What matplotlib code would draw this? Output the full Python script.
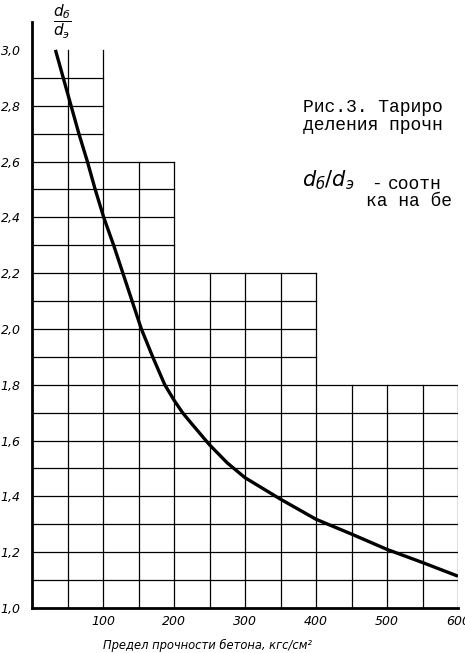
import matplotlib
matplotlib.use("Agg")
import matplotlib.pyplot as plt
import numpy as np

# curve: strength (kgf/cm2) -> d_b/d_e
strength = [33, 44, 55, 66, 78, 89, 101, 115, 128, 141, 154, 170, 187, 200,
            212, 225, 250, 275, 300, 350, 400, 450, 500, 550, 600]
ratio = [3.0, 2.9, 2.8, 2.7, 2.6, 2.5, 2.4, 2.3, 2.2, 2.1, 2.0, 1.9, 1.8, 1.745,
         1.70, 1.66, 1.585, 1.52, 1.467, 1.39, 1.318, 1.265, 1.21, 1.163, 1.114]

# stepped grid: right edge of each block and its top
block_right = [100, 200, 400, 600]
block_top = [3.0, 2.6, 2.2, 1.8]

yticks = [1.0, 1.2, 1.4, 1.6, 1.8, 2.0, 2.2, 2.4, 2.6, 2.8, 3.0]
ytick_labels = ["1,0", "1,2", "1,4", "1,6", "1,8", "2,0", "2,2", "2,4", "2,6", "2,8", "3,0"]
xticks = [100, 200, 300, 400, 500, 600]

W, H = 465, 653
fig = plt.figure(figsize=(W / 100, H / 100), dpi=100)
ax = fig.add_axes([32 / W, 45 / H, 426 / W, 586 / H])
ax.set_xlim(0, 600)
ax.set_ylim(1.0, 3.1)

# grid lines, clipped to the stepped outline
for y in np.arange(1.1, 2.95, 0.1):
    xmax = max(r for r, t in zip(block_right, block_top) if t >= y - 1e-6)
    ax.plot([0, xmax], [y, y], color="black", lw=0.9, zorder=1)
for x in range(50, 601, 50):
    top = next(t for r, t in zip(block_right, block_top) if x <= r)
    ax.plot([x, x], [1.0, top], color="black", lw=0.9, zorder=1)

ax.plot(strength, ratio, color="black", lw=2.4, zorder=3,
        solid_capstyle="butt", solid_joinstyle="round")

for s in ["top", "right"]:
    ax.spines[s].set_visible(False)
ax.spines["left"].set_linewidth(2.0)
ax.spines["bottom"].set_linewidth(2.0)

ax.set_yticks(yticks)
ax.set_yticklabels(ytick_labels, fontstyle="italic", fontsize=9)
ax.set_xticks(xticks)
ax.set_xticklabels([str(v) for v in xticks], fontstyle="italic", fontsize=9)
ax.tick_params(axis="both", length=0)
ax.tick_params(axis="y", pad=8)
ax.tick_params(axis="x", pad=5)

fig.text(207 / W, 1 - 645 / H, "Предел прочности бетона, кгс/см²",
         ha="center", va="center", fontstyle="italic", fontsize=8.3)

fig.text(62 / W, 1 - 22 / H, r"$\dfrac{d_{б}}{d_{э}}$", ha="center", va="center", fontsize=11)

mono = "Liberation Mono"
fig.text(303 / W, 1 - 112 / H, "Рис.3. Тариро", family=mono, fontsize=13, va="baseline")
fig.text(303 / W, 1 - 130 / H, "деления прочн", family=mono, fontsize=13, va="baseline")
fig.text(302 / W, 1 - 186 / H, r"$d_б/d_э$", fontsize=15, va="baseline")
fig.text(371 / W, 1 - 189 / H, "-", family=mono, fontsize=13, va="baseline")
fig.text(388 / W, 1 - 189 / H, "соотн", family=mono, fontsize=13, va="baseline")
fig.text(366 / W, 1 - 206 / H, "ка на бе", family=mono, fontsize=13, va="baseline")

fig.savefig("out.png", dpi=100)
